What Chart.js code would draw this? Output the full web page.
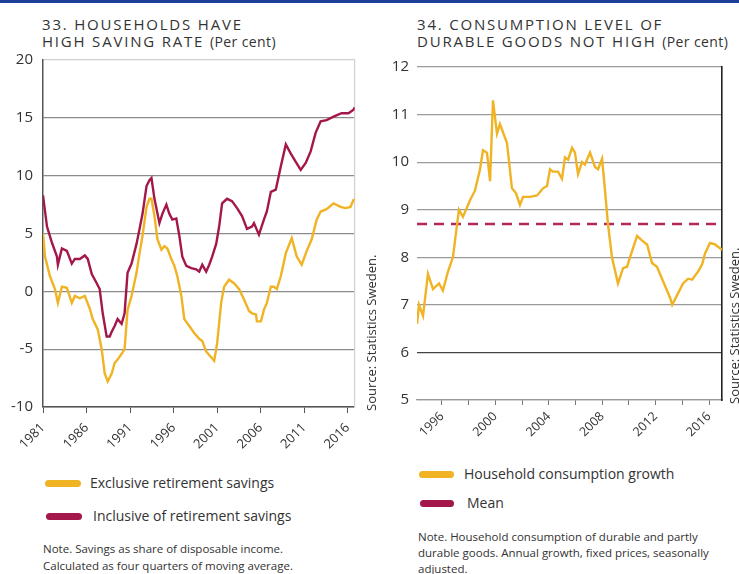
<!DOCTYPE html>
<html>
<head>
<meta charset="utf-8">
<script src="https://cdn.jsdelivr.net/npm/chart.js@4.4.1/dist/chart.umd.min.js"></script>
<style>
  body { margin: 0; width: 739px; height: 574px; background: #fff; position: relative; overflow: hidden;
         font-family: "Open Sans", sans-serif; color: #333; }
  .topbar { position: absolute; left: 0; top: 0; width: 739px; height: 3px; background: #1c3f97; }
  .title { position: absolute; font-size: 15px; line-height: 17px; letter-spacing: 1.8px; white-space: nowrap; color: #333; }
  .title span { letter-spacing: 0.4px; font-size: 14px; }
  .box { position: absolute; }
  .item { position: absolute; font-size: 14px; white-space: nowrap; line-height: 18px; }
  .sw { position: absolute; height: 7px; border-radius: 4px; }
  .note { position: absolute; font-size: 11.5px; line-height: 16.5px; white-space: nowrap; }
  .source { position: absolute; font-size: 13px; line-height: 13px; white-space: nowrap;
            transform: rotate(-90deg); transform-origin: left top; }
</style>
</head>
<body>
<div class="topbar"></div>

<div class="title" style="left:42px; top:16px;">33. HOUSEHOLDS HAVE<br>HIGH SAVING RATE <span>(Per cent)</span></div>
<div class="title" style="left:417px; top:16px;">34. CONSUMPTION LEVEL OF<br>DURABLE GOODS NOT HIGH <span>(Per cent)</span></div>

<div class="box" style="left:0; top:41px;"><canvas id="savings" width="366" height="409"></canvas></div>
<div class="box" style="left:370px; top:50px;"><canvas id="durables" width="369" height="400"></canvas></div>

<div class="source" style="left:365px; top:411px;">Source: Statistics Sweden.</div>
<div class="source" style="left:728px; top:404px;">Source: Statistics Sweden.</div>

<!-- legends and notes -->
<div class="sw" style="left:45px; top:480px; width:36px; background:#f0b323;"></div>
<div class="item" style="left:90px; top:474px;">Exclusive retirement savings</div>
<div class="sw" style="left:46px; top:513px; width:36px; background:#a3174a;"></div>
<div class="item" style="left:93px; top:507px;">Inclusive of retirement savings</div>
<div class="note" style="left:43px; top:541px;">Note. Savings as share of disposable income.<br>Calculated as four quarters of moving average.</div>

<div class="sw" style="left:419px; top:471px; width:35px; background:#f0b323;"></div>
<div class="item" style="left:464px; top:465px;">Household consumption growth</div>
<div class="sw" style="left:420px; top:500px; width:34px; background:#a3174a;"></div>
<div class="item" style="left:467px; top:494px;">Mean</div>
<div class="note" style="left:418px; top:529px; line-height:16px;">Note. Household consumption of durable and partly<br>durable goods. Annual growth, fixed prices, seasonally<br>adjusted.</div>

<script>
// Chart 33: household saving rate
const exclYears = [1981.0, 1981.23, 1981.8, 1982.37, 1982.71, 1983.17, 1983.74, 1984.31, 1984.66, 1985.23,
  1985.8, 1986.37, 1986.71, 1987.29, 1987.74, 1988.09, 1988.43, 1988.89, 1989.23, 1989.57,
  1990.03, 1990.37, 1990.71, 1991.17, 1991.74, 1992.09, 1992.43, 1992.89, 1993.23, 1993.46,
  1993.8, 1994.14, 1994.6, 1994.94, 1995.29, 1995.74, 1996.09, 1996.43, 1996.89, 1997.23,
  1997.8, 1998.37, 1998.94, 1999.29, 1999.74, 2000.31, 2000.66, 2001.0, 2001.46, 2001.8,
  2002.37, 2002.94, 2003.51, 2004.09, 2004.66, 2005.0, 2005.46, 2005.57, 2006.03, 2006.37,
  2006.71, 2007.17, 2007.51, 2007.86, 2008.31, 2008.89, 2009.57, 2010.14, 2010.71, 2011.29,
  2011.86, 2012.43, 2012.89, 2013.57, 2014.37, 2015.17, 2015.74, 2016.31, 2016.66, 2016.8];
const exclValues = [5.0, 3.0, 1.3, 0.2, -1.0, 0.4, 0.3, -1.0, -0.4, -0.6,
  -0.4, -1.5, -2.4, -3.3, -5.0, -7.1, -7.8, -7.1, -6.2, -5.9,
  -5.4, -5.0, -1.6, -0.4, 1.6, 3.3, 4.8, 7.3, 8.0, 8.0,
  6.5, 4.5, 3.6, 3.9, 3.7, 2.8, 2.2, 1.3, -0.4, -2.4,
  -3.0, -3.6, -4.1, -4.3, -5.2, -5.7, -6.0, -4.5, -1.0, 0.4,
  1.0, 0.7, 0.2, -0.7, -1.7, -1.9, -2.0, -2.6, -2.6, -1.6,
  -1.0, 0.4, 0.4, 0.2, 1.3, 3.3, 4.6, 3.0, 2.3, 3.5,
  4.5, 6.2, 6.9, 7.1, 7.6, 7.3, 7.2, 7.3, 7.9, 7.9];

const inclYears = [1981.0, 1981.46, 1982.03, 1982.6, 1982.71, 1983.17, 1983.74, 1984.31, 1984.66, 1985.23,
  1985.8, 1986.14, 1986.6, 1987.17, 1987.51, 1987.86, 1988.31, 1988.66, 1988.89, 1989.23,
  1989.57, 1990.03, 1990.37, 1990.71, 1991.17, 1991.74, 1992.09, 1992.43, 1992.89, 1993.23,
  1993.46, 1993.8, 1994.37, 1994.71, 1995.17, 1995.51, 1995.86, 1996.31, 1996.66, 1997.0,
  1997.46, 1998.03, 1998.6, 1998.94, 1999.29, 1999.74, 2000.09, 2000.43, 2000.89, 2001.23,
  2001.57, 2002.14, 2002.71, 2003.29, 2003.86, 2004.43, 2005.0, 2005.23, 2005.8, 2006.37,
  2006.71, 2007.17, 2007.74, 2008.31, 2008.89, 2009.46, 2010.03, 2010.6, 2011.17, 2011.74,
  2012.31, 2012.89, 2013.57, 2014.37, 2015.29, 2016.09, 2016.66, 2016.8];
const inclValues = [8.3, 5.6, 4.2, 3.0, 2.3, 3.7, 3.5, 2.4, 2.8, 2.8,
  3.1, 2.8, 1.5, 0.7, 0.2, -1.9, -3.9, -3.9, -3.5, -3.0,
  -2.4, -2.8, -1.9, 1.6, 2.4, 4.1, 5.4, 6.7, 9.1, 9.6,
  9.8, 8.0, 5.9, 6.7, 7.5, 6.7, 6.2, 6.3, 4.8, 3.0,
  2.2, 2.0, 1.9, 1.7, 2.3, 1.7, 2.3, 3.0, 4.1, 5.6,
  7.6, 8.0, 7.8, 7.2, 6.5, 5.4, 5.6, 5.9, 4.9, 6.2,
  6.9, 8.6, 8.8, 10.8, 12.7, 11.9, 11.2, 10.5, 11.1, 12.1,
  13.7, 14.7, 14.8, 15.1, 15.4, 15.4, 15.7, 15.9];

const savingTicks = [1981, 1986, 1991, 1996, 2001, 2006, 2011, 2016];

// Chart 34: durable goods consumption
const consYears = [1994.13, 1994.28, 1994.58, 1994.95, 1995.33, 1995.78, 1996.07, 1996.45, 1996.82, 1997.27,
  1997.57, 1998.10, 1998.47, 1998.85, 1999.07, 1999.37, 1999.60, 1999.82, 2000.12, 2000.34,
  2000.87, 2001.24, 2001.54, 2001.84, 2002.07, 2002.59, 2003.12, 2003.57, 2003.87, 2004.09,
  2004.31, 2004.69, 2004.99, 2005.21, 2005.44, 2005.74, 2005.96, 2006.19, 2006.49, 2006.71,
  2007.09, 2007.46, 2007.69, 2007.99, 2008.21, 2008.43, 2008.73, 2009.18, 2009.56, 2009.86,
  2010.08, 2010.61, 2010.99, 2011.36, 2011.73, 2012.10, 2012.55, 2013.08, 2013.24, 2013.60,
  2014.05, 2014.43, 2014.73, 2015.18, 2015.48, 2015.70, 2016.07, 2016.45, 2016.97];
const consValues = [6.6, 7.0, 6.77, 7.65, 7.33, 7.45, 7.3, 7.7, 8.0, 9.0,
  8.85, 9.2, 9.4, 9.85, 10.25, 10.2, 9.6, 11.3, 10.6, 10.8,
  10.4, 9.45, 9.35, 9.1, 9.27, 9.27, 9.3, 9.45, 9.5, 9.85,
  9.8, 9.8, 9.65, 10.1, 10.05, 10.3, 10.2, 9.75, 10.0, 9.95,
  10.2, 9.9, 9.85, 10.07, 9.4, 8.7, 8.0, 7.45, 7.77, 7.8,
  8.0, 8.45, 8.35, 8.27, 7.88, 7.8, 7.5, 7.15, 7.0, 7.2,
  7.45, 7.55, 7.53, 7.7, 7.85, 8.08, 8.3, 8.27, 8.16];
const consMean = 8.7;

const durableTicks = [1996, 1998, 2000, 2002, 2004, 2006, 2008, 2010, 2012, 2014, 2016];

const yellow = '#f0b323';
const crimson = '#a3174a';
const font = 'Open Sans';

function points(xs, ys) {
  return xs.map((x, i) => ({ x: x, y: ys[i] }));
}

new Chart(document.getElementById('savings'), {
  type: 'line',
  data: {
    datasets: [
      { label: 'Exclusive retirement savings', data: points(exclYears, exclValues),
        borderColor: yellow, borderWidth: 2.4, pointRadius: 0, tension: 0 },
      { label: 'Inclusive of retirement savings', data: points(inclYears, inclValues),
        borderColor: crimson, borderWidth: 2.4, pointRadius: 0, tension: 0 }
    ]
  },
  options: {
    responsive: false,
    animation: false,
    layout: { padding: { top: 10, right: 10, left: 0, bottom: 0 } },
    plugins: { legend: { display: false }, tooltip: { enabled: false } },
    scales: {
      x: {
        type: 'linear', min: 1981, max: 2016.8,
        afterBuildTicks: s => { s.ticks = savingTicks.map(v => ({ value: v })); },
        afterFit: s => { s.height = 43; },
        grid: { drawOnChartArea: false, tickLength: 6, color: '#555' },
        border: { color: '#555', width: 1.5 },
        ticks: { minRotation: 45, maxRotation: 45, padding: 7, color: '#333',
                 font: { family: font, size: 13 }, callback: v => String(v) }
      },
      y: {
        min: -10, max: 20,
        afterFit: s => { s.width = 43; },
        grid: { drawTicks: false, color: c => c.tick.value === 20 ? '#d0d0d0' : '#8c8c8c', lineWidth: 1.2 },
        border: { color: '#555', width: 1.5 },
        ticks: { stepSize: 5, padding: 10, color: '#333', font: { family: font, size: 15 } }
      },
      yr: {
        position: 'right', min: -10, max: 20,
        afterFit: s => { s.width = 0; },
        grid: { display: false, drawTicks: false },
        border: { color: '#d0d0d0', width: 1.2 },
        ticks: { display: false }
      }
    }
  }
});

new Chart(document.getElementById('durables'), {
  type: 'line',
  data: {
    datasets: [
      { label: 'Household consumption growth', data: points(consYears, consValues),
        borderColor: yellow, borderWidth: 2.4, pointRadius: 0, tension: 0 },
      { label: 'Mean', data: points([consYears[0], consYears[consYears.length - 1]], [consMean, consMean]),
        borderColor: '#b3285c', borderWidth: 2.6, borderDash: [10, 7], pointRadius: 0 }
    ]
  },
  options: {
    responsive: false,
    animation: false,
    layout: { padding: { top: 10, right: 17, left: 0, bottom: 0 } },
    plugins: { legend: { display: false }, tooltip: { enabled: false } },
    scales: {
      x: {
        type: 'linear', min: 1994.13, max: 2016.97,
        afterBuildTicks: s => { s.ticks = durableTicks.map(v => ({ value: v })); },
        afterFit: s => { s.height = 50; },
        grid: { drawOnChartArea: false, tickLength: 5, color: '#777' },
        border: { color: '#999', width: 1.2 },
        ticks: { minRotation: 45, maxRotation: 45, padding: 4, color: '#333', autoSkip: false,
                 font: { family: font, size: 12.5 }, callback: v => v % 4 === 0 ? String(v) : '' }
      },
      y: {
        min: 5, max: 12,
        afterFit: s => { s.width = 47; },
        grid: { drawTicks: false, color: c => c.tick.value === 6 ? '#444' : '#9a9a9a', lineWidth: 1.2 },
        border: { display: false },
        ticks: { stepSize: 1, padding: 8, color: '#333', font: { family: font, size: 15 } }
      },
      yr: {
        position: 'right', min: 5, max: 12,
        afterFit: s => { s.width = 0; },
        grid: { display: false, drawTicks: false },
        border: { color: '#222', width: 1.6 },
        ticks: { display: false }
      }
    }
  }
});
</script>
</body>
</html>
